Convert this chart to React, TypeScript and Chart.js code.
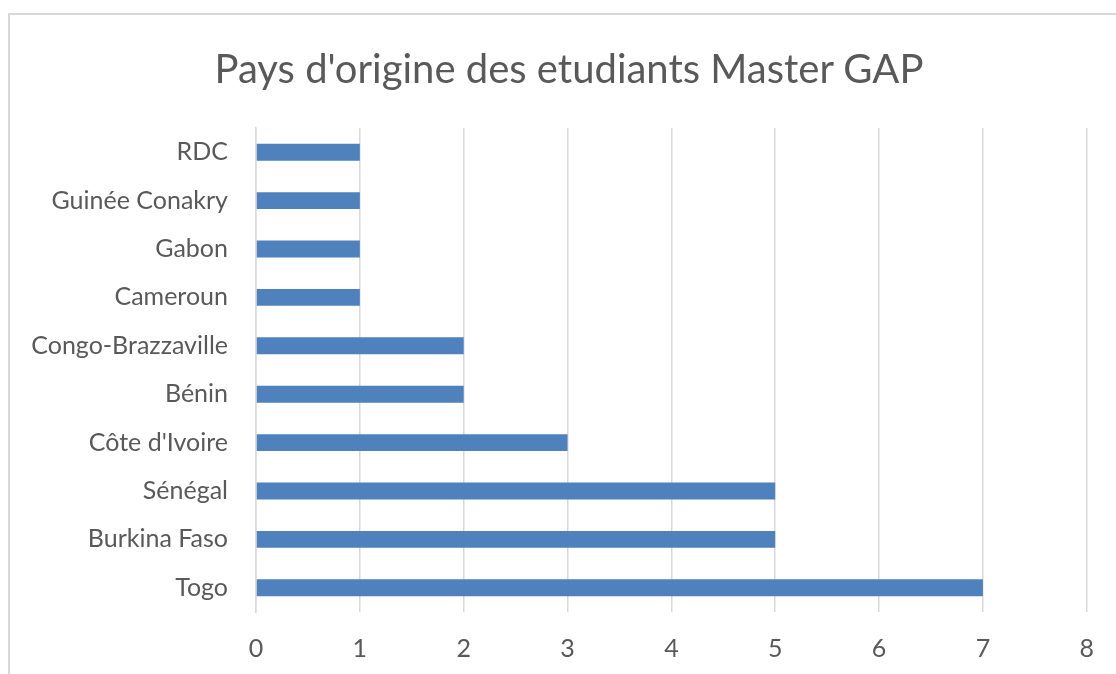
import React, { useEffect, useRef } from "react";
import { Chart, registerables } from "chart.js";

Chart.register(...registerables);

const categories = [
  "RDC",
  "Guinée Conakry",
  "Gabon",
  "Cameroun",
  "Congo-Brazzaville",
  "Bénin",
  "Côte d'Ivoire",
  "Sénégal",
  "Burkina Faso",
  "Togo",
];
const students = [1, 1, 1, 1, 2, 2, 3, 5, 5, 7];
const xTicks = [0, 1, 2, 3, 4, 5, 6, 7, 8];
const titleText = "Pays d'origine des etudiants Master GAP";

const FONT = "Lato, 'Open Sans', sans-serif";
const TEXT = "#595959";
const GRID = "#d9d9d9";
const BAR = "#4f81bd";

export default function App() {
  const ref = useRef<HTMLCanvasElement | null>(null);

  useEffect(() => {
    const ctx = ref.current!.getContext("2d")!;
    const chart = new Chart(ctx, {
      type: "bar",
      data: {
        labels: categories,
        datasets: [
          {
            data: students,
            backgroundColor: BAR,
            borderWidth: 0,
            categoryPercentage: 1,
            barPercentage: 0.35,
          },
        ],
      },
      options: {
        indexAxis: "y",
        animation: false,
        responsive: false,
        maintainAspectRatio: false,
        layout: { padding: { left: 10, right: 29, top: 128, bottom: 0 } },
        plugins: {
          legend: { display: false },
          tooltip: { enabled: false },
          title: { display: false },
        },
        scales: {
          x: {
            min: 0,
            max: 8,
            afterBuildTicks: (scale: any) => {
              scale.ticks = xTicks.map((v) => ({ value: v }));
            },
            afterFit: (scale: any) => {
              scale.height = 62;
            },
            grid: { color: GRID, lineWidth: 1.5, drawTicks: false },
            border: { display: false },
            ticks: {
              color: TEXT,
              font: { family: FONT, size: 25 },
              padding: 22,
            },
          },
          y: {
            afterFit: (scale: any) => {
              scale.width = 246;
            },
            grid: { display: false, drawTicks: false },
            border: { display: true, color: GRID, width: 1.5 },
            ticks: {
              color: TEXT,
              font: { family: FONT, size: 25 },
              padding: 28,
            },
          },
        },
      },
    });
    return () => chart.destroy();
  }, []);

  return (
    <div
      style={{
        position: "fixed",
        left: 0,
        top: 0,
        width: 1116,
        height: 674,
        overflow: "hidden",
        background: "#fff",
      }}
    >
      <div
        style={{
          position: "absolute",
          left: 8,
          top: 13,
          width: 1130,
          height: 700,
          border: "2px solid #d9d9d9",
          boxSizing: "border-box",
        }}
      />
      <canvas
        ref={ref}
        width={1116}
        height={674}
        style={{ position: "absolute", left: 0, top: 0, width: 1116, height: 674 }}
      />
      <div
        style={{
          position: "absolute",
          left: 0,
          top: 44,
          width: 1138,
          height: 48,
          lineHeight: "48px",
          textAlign: "center",
          fontFamily: FONT,
          fontSize: 40,
          color: TEXT,
          whiteSpace: "nowrap",
        }}
      >
        {titleText}
      </div>
    </div>
  );
}
